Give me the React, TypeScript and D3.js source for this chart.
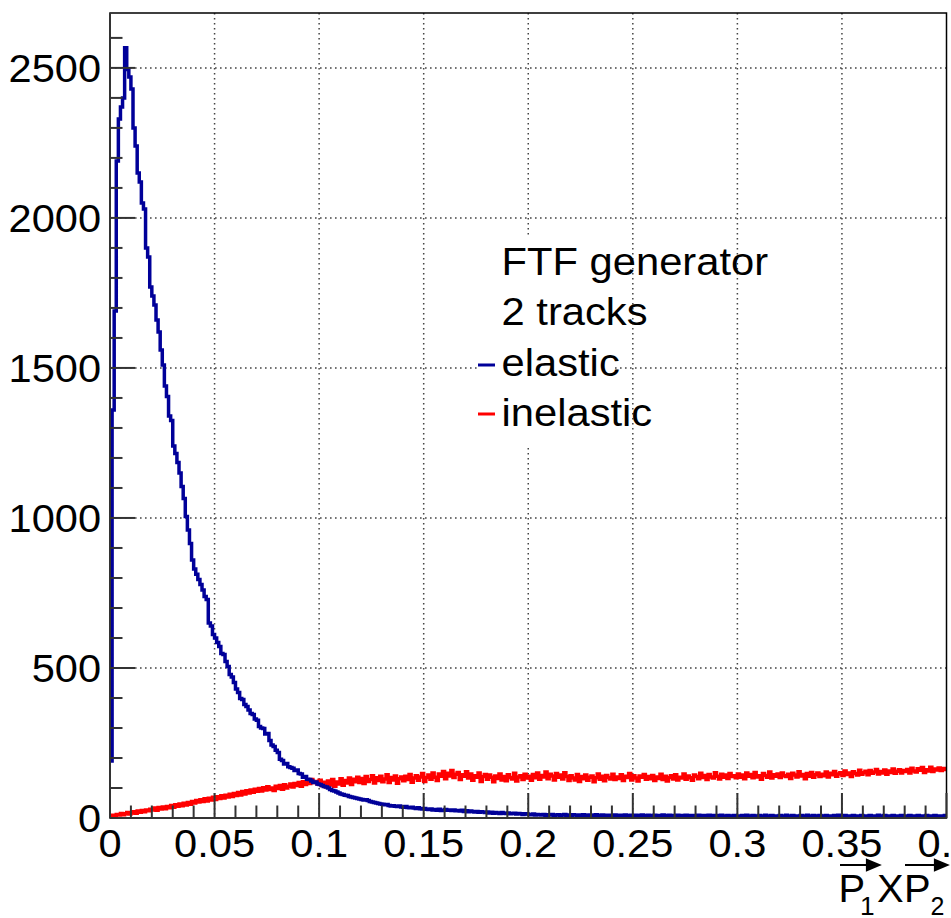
import React from "react";
import * as d3 from "d3";

// ---------- data ----------
const xMin = 0;
const xMax = 0.4;
const binWidth = 0.001;
const yMax = 2683;

const xTickValues = [0, 0.05, 0.1, 0.15, 0.2, 0.25, 0.3, 0.35, 0.4];
const xTickLabels = ["0", "0.05", "0.1", "0.15", "0.2", "0.25", "0.3", "0.35", "0.4"];
const yTickValues = [0, 500, 1000, 1500, 2000, 2500];
const yTickLabels = ["0", "500", "1000", "1500", "2000", "2500"];

const legendHeader = ["FTF generator", "2 tracks"];
const legendLabels = ["elastic", "inelastic"];
const seriesColors = ["#000099", "#ff0000"];

const elastic = [
  190, 1360, 1690, 2190, 2330, 2370, 2400, 2567, 2495, 2470, 2430, 2300, 2240, 2150, 2120, 2050, 2030, 1900, 1870, 1770,
  1740, 1710, 1660, 1620, 1560, 1510, 1440, 1405, 1340, 1325, 1240, 1215, 1185, 1150, 1105, 1065, 1005, 960, 915, 860,
  830, 812, 795, 778, 760, 738, 728, 650, 640, 612, 600, 585, 572, 548, 545, 522, 505, 478, 470, 452,
  430, 418, 398, 395, 378, 372, 360, 348, 345, 330, 326, 305, 300, 298, 280, 282, 258, 243, 238, 226,
  218, 196, 192, 180, 182, 171, 168, 166, 158, 160, 148, 147, 136, 138, 129, 128, 123, 118, 120, 113,
  112, 108, 105, 103, 100, 95, 92, 90, 87, 83, 80, 78, 76, 75, 72, 70, 68, 67, 65, 63,
  62, 60, 61, 58, 55, 53, 52, 50, 48, 47, 46, 44, 45, 42, 40, 41, 39, 38, 40, 37,
  36, 38, 35, 34, 36, 33, 32, 34, 31, 30, 32, 29, 28, 30, 27, 28, 26, 29, 25, 26,
  28, 26, 27, 25, 27, 24, 25, 23, 26, 22, 24, 21, 23, 22, 20, 22, 19, 21, 20, 18,
  20, 17, 19, 16, 18, 17, 15, 18, 16, 15, 17, 14, 15, 16, 13, 15, 14, 12, 14, 13,
  12, 11, 13, 10, 12, 11, 10, 12, 9, 11, 10, 12, 9, 10, 11, 9, 10, 12, 9, 10,
  9, 11, 10, 8, 10, 9, 11, 8, 9, 10, 8, 9, 11, 8, 9, 10, 8, 9, 7, 9,
  8, 10, 9, 7, 9, 8, 10, 8, 7, 9, 8, 9, 7, 8, 10, 8, 7, 9, 8, 7,
  9, 8, 7, 8, 10, 7, 8, 9, 7, 8, 6, 9, 8, 7, 8, 9, 7, 8, 6, 8,
  7, 9, 8, 6, 8, 7, 9, 7, 8, 6, 8, 7, 9, 6, 7, 8, 7, 6, 8, 7,
  7, 6, 8, 7, 9, 6, 7, 8, 6, 7, 8, 6, 7, 9, 7, 6, 8, 7, 6, 7,
  8, 6, 7, 9, 6, 7, 8, 6, 7, 6, 8, 7, 6, 9, 7, 6, 8, 6, 7, 8,
  6, 7, 8, 6, 7, 6, 8, 7, 9, 6, 7, 8, 6, 7, 6, 8, 7, 6, 7, 8,
  6, 7, 6, 8, 7, 6, 7, 9, 6, 7, 8, 6, 7, 6, 8, 7, 6, 7, 8, 6,
  7, 6, 8, 7, 6, 7, 8, 6, 7, 6, 8, 7, 6, 7, 8, 6, 7, 6, 7, 8,
];

const inelastic = [
  4, 9, 7, 12, 10, 15, 11, 14, 18, 13, 17, 21, 16, 23, 19, 25, 21, 27, 24, 29,
  27, 33, 26, 35, 30, 37, 31, 38, 34, 42, 36, 44, 39, 47, 41, 49, 43, 52, 46, 55,
  50, 58, 53, 61, 55, 64, 57, 66, 60, 69, 62, 71, 65, 74, 67, 76, 70, 79, 72, 82,
  75, 85, 77, 88, 80, 91, 83, 93, 86, 96, 89, 98, 90, 101, 93, 104, 95, 100, 92, 106,
  98, 108, 96, 111, 100, 106, 113, 103, 115, 108, 118, 106, 121, 112, 125, 115, 128, 118, 122, 113,
  126, 108, 119, 104, 123, 110, 128, 106, 120, 113, 131, 109, 125, 117, 133, 112, 129, 121, 136, 118,
  132, 115, 138, 122, 128, 141, 117, 134, 125, 139, 121, 130, 144, 118, 135, 127, 140, 116, 131, 137,
  124, 139, 128, 145, 119, 133, 141, 126, 137, 148, 122, 135, 143, 129, 150, 136, 125, 147, 139, 155,
  131, 149, 140, 158, 135, 146, 152, 128, 144, 139, 154, 133, 147, 126, 141, 136, 150, 122, 138, 145,
  129, 143, 136, 121, 140, 132, 147, 127, 138, 124, 144, 135, 130, 149, 123, 137, 141, 128, 146, 133,
  139, 126, 145, 134, 150, 129, 142, 137, 153, 131, 146, 140, 127, 148, 136, 143, 130, 151, 138, 125,
  141, 133, 127, 145, 122, 138, 131, 143, 126, 136, 140, 121, 134, 147, 129, 139, 124, 142, 135, 130,
  146, 128, 137, 132, 144, 125, 139, 135, 148, 127, 141, 133, 123, 140, 136, 145, 129, 138, 131, 142,
  125, 137, 132, 146, 128, 139, 123, 135, 141, 130, 144, 127, 136, 133, 147, 129, 140, 134, 126, 143,
  138, 131, 149, 135, 142, 128, 145, 137, 133, 151, 139, 130, 146, 136, 143, 132, 148, 138, 141, 134,
  147, 136, 143, 131, 150, 139, 145, 134, 152, 137, 141, 129, 148, 142, 136, 153, 133, 144, 139, 147,
  135, 150, 141, 138, 146, 132, 149, 143, 137, 154, 140, 145, 131, 148, 139, 152, 136, 144, 150, 138,
  146, 141, 153, 137, 149, 144, 155, 139, 147, 151, 142, 157, 145, 150, 138, 154, 148, 143, 159, 146,
  151, 156, 144, 158, 149, 153, 162, 147, 155, 150, 160, 146, 157, 152, 163, 149, 156, 161, 150, 158,
  155, 162, 150, 166, 157, 153, 164, 159, 168, 152, 161, 157, 169, 155, 163, 160, 167, 158, 165, 162,
];

// ---------- layout ----------
const W = 951;
const H = 918;
const left = 110;
const right = 946.5;
const top = 13;
const bottom = 818;
const font = "'Liberation Sans', Arial, Helvetica, sans-serif";

function histPath(values: number[], x: d3.ScaleLinear<number, number>, y: d3.ScaleLinear<number, number>) {
  const pts: [number, number][] = values.map((v, i) => [xMin + i * binWidth, v]);
  pts.push([xMin + values.length * binWidth, values[values.length - 1]]);
  const line = d3
    .line<[number, number]>()
    .x((d) => x(d[0]))
    .y((d) => y(d[1]))
    .curve(d3.curveStepAfter);
  return line(pts) || "";
}

function SText(props: { x: number; y: number; size: number; anchor?: string; sx?: number; children: React.ReactNode }) {
  const { x, y, size, anchor = "start", sx = 1.08, children } = props;
  return (
    <text
      transform={`translate(${x},${y}) scale(${sx},1)`}
      fontFamily={font}
      fontSize={size}
      textAnchor={anchor}
      fill="#000"
    >
      {children}
    </text>
  );
}

export default function App() {
  const x = d3.scaleLinear().domain([xMin, xMax]).range([left, right]);
  const y = d3.scaleLinear().domain([0, yMax]).range([bottom, top]);

  const xMinor = d3.range(0, 41).map((i) => i * 0.01).filter((v) => v <= xMax + 1e-9);
  const yMinor = d3.range(0, 27).map((i) => i * 100).filter((v) => v <= yMax);

  const gridColor = "#444";
  const axisColor = "#333";

  return (
    <svg width={W} height={H} style={{ position: "absolute", left: 0, top: 0, background: "#fff" }}>
      <defs>
        <clipPath id="frame">
          <rect x={left} y={top} width={right - left} height={bottom - top} />
        </clipPath>
      </defs>
      <rect x={0} y={0} width={W} height={H} fill="#fff" />

      {/* grid */}
      <g stroke={gridColor} strokeWidth={1.5} strokeDasharray="1.6 3.4" fill="none">
        {xTickValues
          .filter((v) => v > 0 && v < xMax)
          .map((v) => (
            <line key={"gx" + v} x1={x(v)} x2={x(v)} y1={top} y2={bottom} />
          ))}
        {yTickValues
          .filter((v) => v > 0)
          .map((v) => (
            <line key={"gy" + v} x1={left} x2={right} y1={y(v)} y2={y(v)} />
          ))}
      </g>

      {/* legend box (white fill, no border) */}
      <rect x={477} y={238} width={138} height={207} fill="#fff" />

      {/* histograms */}
      <g clipPath="url(#frame)" fill="none" strokeWidth={3.5} strokeLinejoin="miter">
        <path d={histPath(inelastic, x, y)} stroke={seriesColors[1]} />
        <path d={histPath(elastic, x, y)} stroke={seriesColors[0]} />
      </g>

      {/* frame */}
      <rect x={left} y={top} width={right - left} height={bottom - top} fill="none" stroke="#000" strokeWidth={1.5} />

      {/* x ticks */}
      <g stroke={axisColor} strokeWidth={2}>
        <line x1={left} x2={right} y1={bottom} y2={bottom} />
        {xMinor.map((v, i) => {
          const major = i % 5 === 0;
          return <line key={"xt" + i} x1={x(v)} x2={x(v)} y1={bottom} y2={bottom - (major ? 25 : 12.5)} />;
        })}
      </g>
      {/* y ticks */}
      <g stroke={axisColor} strokeWidth={2}>
        <line x1={left} x2={left} y1={top} y2={bottom} />
        {yMinor.map((v, i) => {
          const major = i % 5 === 0;
          return <line key={"yt" + i} x1={left} x2={left + (major ? 25 : 12.5)} y1={y(v)} y2={y(v)} />;
        })}
      </g>

      {/* tick labels */}
      {xTickValues.map((v, i) => (
        <SText key={"xl" + i} x={x(v)} y={857} size={38.5} anchor="middle">
          {xTickLabels[i]}
        </SText>
      ))}
      {yTickValues.map((v, i) => (
        <SText key={"yl" + i} x={101} y={y(v) + 13.6} size={38.5} anchor="end">
          {yTickLabels[i]}
        </SText>
      ))}

      {/* x axis title: P1 x P2 with vector arrows */}
      <SText x={838.5} y={902} size={38} sx={1.05}>P</SText>
      <SText x={860} y={915} size={25} sx={1.05}>1</SText>
      <SText x={877} y={902} size={38} sx={1.05}>X</SText>
      <SText x={904} y={902} size={38} sx={1.05}>P</SText>
      <SText x={930.5} y={915} size={25} sx={1.0}>2</SText>
      <g stroke="#000" strokeWidth={2.2} fill="#000">
        <line x1={840} x2={874} y1={865} y2={865} />
        <polygon points="867,860 879,865 867,870" />
        <line x1={905} x2={942} y1={865} y2={865} />
        <polygon points="935,860 947,865 935,870" />
      </g>

      {/* legend */}
      {legendHeader.map((t, i) => (
        <SText key={"lh" + i} x={501.5} y={275 + i * 50} size={39} sx={1.07}>
          {t}
        </SText>
      ))}
      {legendLabels.map((t, i) => (
        <g key={"le" + i}>
          <line x1={478} x2={495} y1={365 + i * 49} y2={365 + i * 49} stroke={seriesColors[i]} strokeWidth={3} />
          <SText x={501.5} y={376 + i * 50} size={39} sx={1.07}>
            {t}
          </SText>
        </g>
      ))}
    </svg>
  );
}
